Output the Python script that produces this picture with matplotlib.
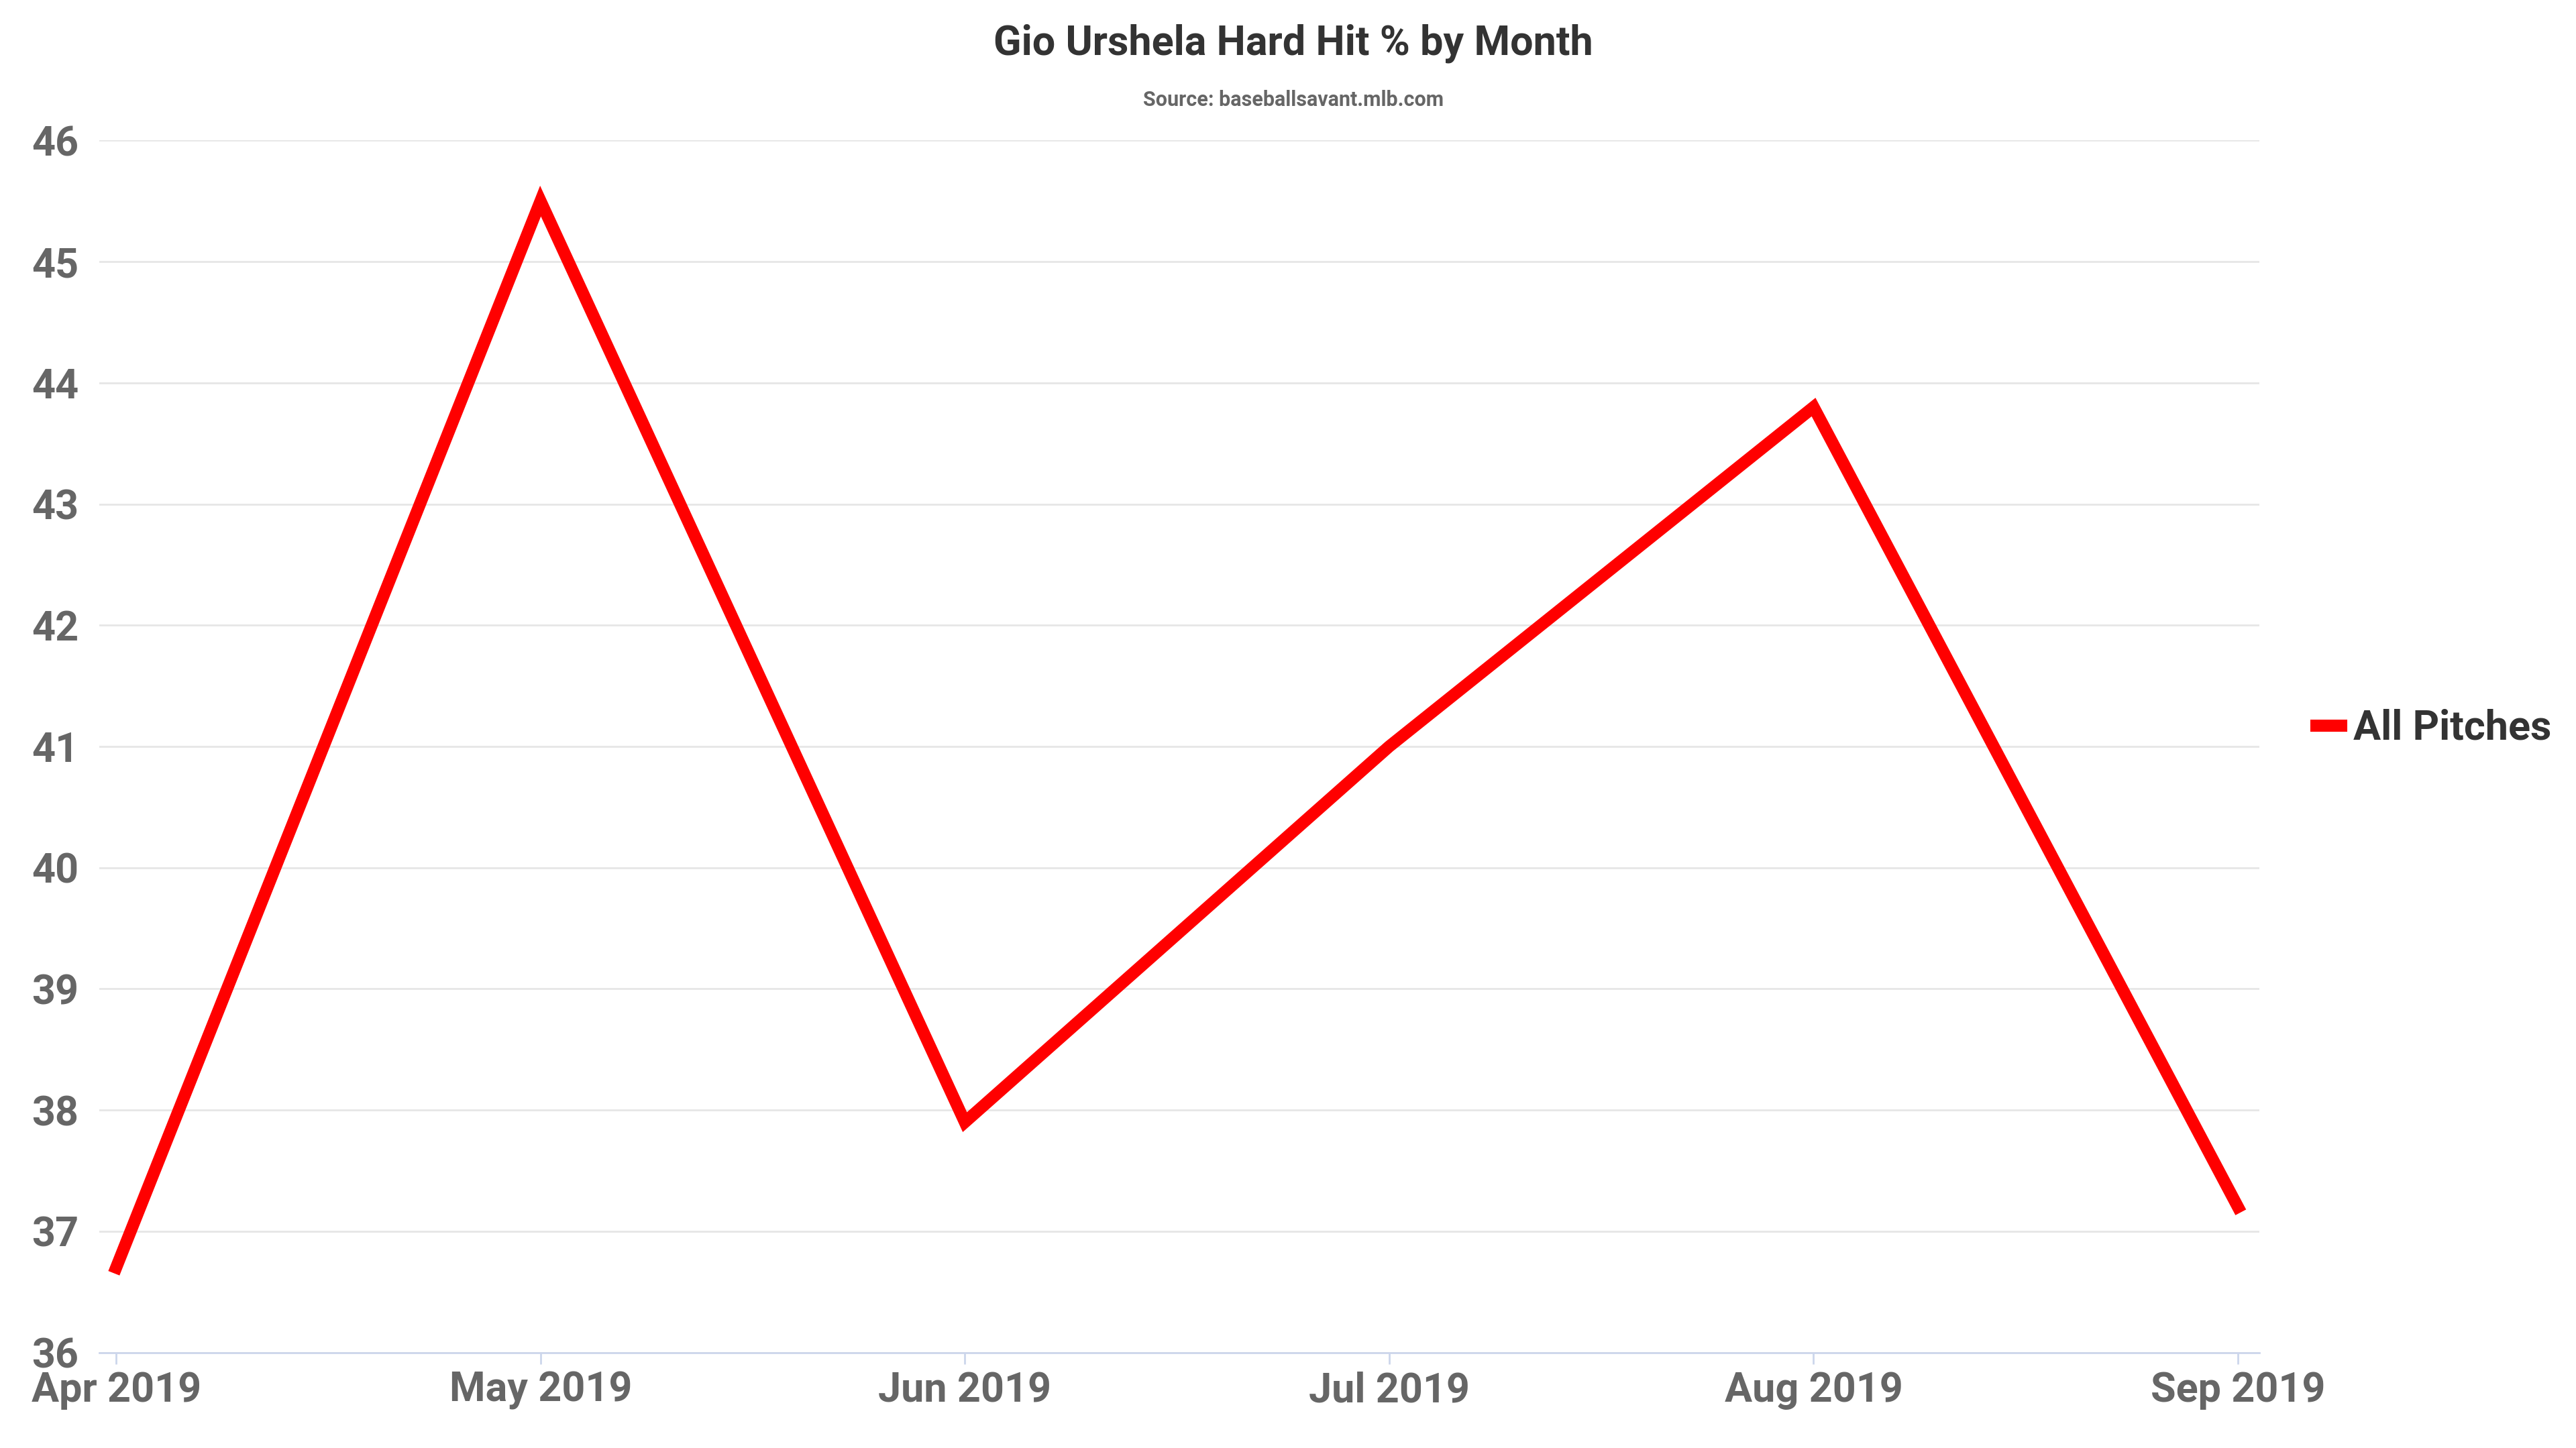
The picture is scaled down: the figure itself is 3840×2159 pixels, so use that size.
import matplotlib
matplotlib.use("Agg")
import matplotlib.pyplot as plt

months = ["Apr 2019", "May 2019", "Jun 2019", "Jul 2019", "Aug 2019", "Sep 2019"]
hard_hit = [36.7, 45.5, 37.9, 41.0, 43.8, 37.2]
yticks = [36, 37, 38, 39, 40, 41, 42, 43, 44, 45, 46]

plt.rcParams['font.family'] = ['Roboto', 'DejaVu Sans']
fig = plt.figure(figsize=(38.4, 21.59), dpi=100)
ax = fig.add_axes([0.0385, 0.066, 0.8385, 0.837])
x = list(range(len(months)))
ax.plot(x, hard_hit, color='#ff0000', lw=13, solid_joinstyle='miter', label='All Pitches')
ax.set_xlim(-0.04, 5.05)
ax.set_ylim(36, 46)
ax.set_yticks(yticks)
ax.set_xticks(x)
ax.set_xticklabels(months)
ax.grid(axis='y', color='#e6e6e6', lw=2)
ax.set_axisbelow(True)
for s in ['top', 'right', 'left']:
    ax.spines[s].set_visible(False)
ax.spines['bottom'].set_color('#ccd6eb')
ax.spines['bottom'].set_linewidth(2)
ax.tick_params(axis='y', length=0, pad=22, labelsize=44, labelcolor='#666666')
ax.tick_params(axis='x', length=12, color='#ccd6eb', width=2, pad=8, labelsize=44, labelcolor='#666666')
for t in ax.get_xticklabels() + ax.get_yticklabels():
    t.set_fontweight('bold')
fig.text(0.502, 0.97, "Gio Urshela Hard Hit % by Month", ha='center', va='center',
         fontsize=44, fontweight='bold', color='#333333')
fig.text(0.502, 0.931, "Source: baseballsavant.mlb.com", ha='center', va='center',
         fontsize=22, fontweight='bold', color='#666666')
leg = fig.legend(loc='center left', bbox_to_anchor=(0.885, 0.497), frameon=False,
                 fontsize=44, handlelength=0.6, handletextpad=0.3)
for t in leg.get_texts():
    t.set_fontweight('bold'); t.set_color('#333333')
fig.savefig("out.png", dpi=100)
